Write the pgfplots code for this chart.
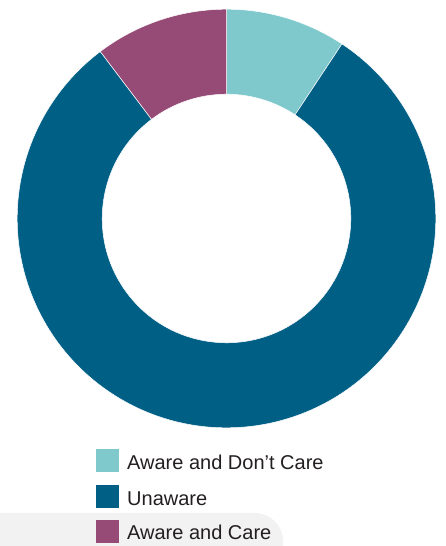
\documentclass[border=0pt]{standalone}
\usepackage{pgfplots}
\pgfplotsset{compat=1.18}
\usepackage{pgfplotstable}
\usepackage{fontspec}
\setmainfont{Liberation Sans}
\definecolor{cTeal}{RGB}{127,201,205}
\definecolor{cBlue}{RGB}{0,95,133}
\definecolor{cPurple}{RGB}{150,75,118}
\definecolor{cGray}{RGB}{242,242,242}
\definecolor{cText}{RGB}{35,31,32}

\pgfplotstableread{
label share
AwareDontCare 9.3
Unaware 80.4
AwareCare 10.3
}\shares
\def\Ro{209.3}
\def\Ri{124.3}

\begin{document}
\begin{tikzpicture}
\pgfplotstablegetelem{0}{share}\of\shares \global\let\sA\pgfplotsretval
\pgfplotstablegetelem{1}{share}\of\shares \global\let\sB\pgfplotsretval
\pgfplotstablegetelem{2}{share}\of\shares \global\let\sC\pgfplotsretval
\pgfmathsetmacro\aA{90}
\pgfmathsetmacro\aB{\aA-\sA*3.6}
\pgfmathsetmacro\aC{\aB-\sB*3.6}
\pgfmathsetmacro\aD{\aC-\sC*3.6}
\begin{axis}[hide axis, scale only axis, x=1pt, y=1pt,
  xmin=0, xmax=445, ymin=0, ymax=546, clip=false]
\coordinate (bl) at (axis cs:0,0);
\coordinate (tr) at (axis cs:445,546);
% background strip
\fill[cGray] (axis cs:0,0) -- (axis cs:0,33) [rounded corners=28pt] -- (axis cs:283,33) [sharp corners] -- (axis cs:283,0) -- cycle;
% donut
\begin{scope}[shift={(axis cs:226.5,327.5)}]
\fill[cTeal, draw=white, line width=0.5pt] (\aA:\Ro pt) arc[start angle=\aA,end angle=\aB,radius=\Ro pt] -- (\aB:\Ri pt) arc[start angle=\aB,end angle=\aA,radius=\Ri pt] -- cycle;
\fill[cBlue, draw=white, line width=0.5pt] (\aB:\Ro pt) arc[start angle=\aB,end angle=\aC,radius=\Ro pt] -- (\aC:\Ri pt) arc[start angle=\aC,end angle=\aB,radius=\Ri pt] -- cycle;
\fill[cPurple, draw=white, line width=0.5pt] (\aC:\Ro pt) arc[start angle=\aC,end angle=\aD,radius=\Ro pt] -- (\aD:\Ri pt) arc[start angle=\aD,end angle=\aC,radius=\Ri pt] -- cycle;
\end{scope}
% legend
\fill[cTeal] (axis cs:96,74.3) rectangle (axis cs:119,97);
\fill[cBlue] (axis cs:96,38.3) rectangle (axis cs:119,61);
\fill[cPurple] (axis cs:96,3.3) rectangle (axis cs:119,26);
\node[anchor=base west, inner sep=0pt, text=cText, font=\fontsize{20}{24}\selectfont] at (axis cs:127,76.7) {Aware and Don’t Care};
\node[anchor=base west, inner sep=0pt, text=cText, font=\fontsize{20}{24}\selectfont] at (axis cs:127,40) {Unaware};
\node[anchor=base west, inner sep=0pt, text=cText, font=\fontsize{20}{24}\selectfont] at (axis cs:127,6) {Aware and Care};
\end{axis}
\pgfresetboundingbox
\path[use as bounding box] (bl) rectangle (tr);
\end{tikzpicture}
\end{document}
